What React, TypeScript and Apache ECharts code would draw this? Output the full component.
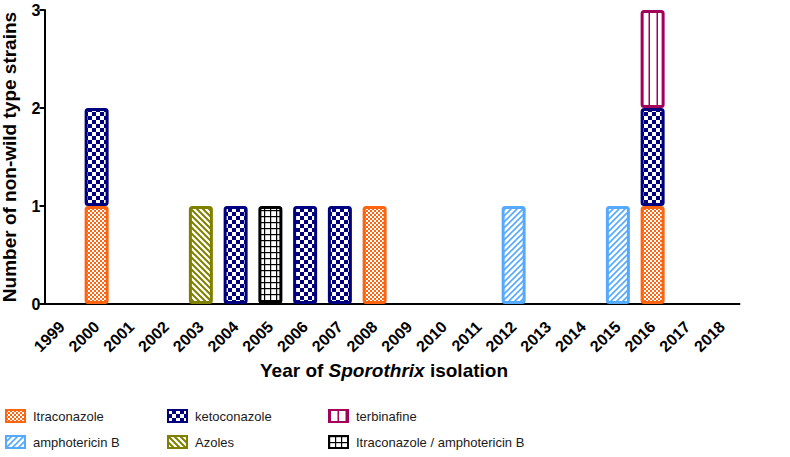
import React, { useEffect, useRef } from "react";
import * as echarts from "echarts";

const years = ["1999","2000","2001","2002","2003","2004","2005","2006","2007","2008","2009","2010","2011","2012","2013","2014","2015","2016","2017","2018"];
const N = null;
const itraconazole = [N,1,N,N,N,N,N,N,N,1,N,N,N,N,N,N,N,1,N,N];
const ketoconazole = [N,1,N,N,N,1,N,1,1,N,N,N,N,N,N,N,N,1,N,N];
const terbinafine = [N,N,N,N,N,N,N,N,N,N,N,N,N,N,N,N,N,1,N,N];
const amphotericinB = [N,N,N,N,N,N,N,N,N,N,N,N,N,1,N,N,1,N,N,N];
const azoles = [N,N,N,N,1,N,N,N,N,N,N,N,N,N,N,N,N,N,N,N];
const itraAmpho = [N,N,N,N,N,N,1,N,N,N,N,N,N,N,N,N,N,N,N,N];

const ORANGE = "#FF6410";
const NAVY = "#00007E";
const CRIMSON = "#A3005A";
const LIGHTBLUE = "#55AAFF";
const OLIVE = "#808000";
const BLACK = "#000000";

function mk(w: number, h: number, draw: (c: CanvasRenderingContext2D) => void) {
  const cv = document.createElement("canvas");
  cv.width = w;
  cv.height = h;
  const c = cv.getContext("2d")!;
  c.fillStyle = "#ffffff";
  c.fillRect(0, 0, w, h);
  draw(c);
  return { image: cv, repeat: "repeat" } as any;
}

function patterns() {
  const itra = mk(4, 4, (c) => {
    c.fillStyle = ORANGE;
    c.fillRect(0, 0, 2, 2);
    c.fillRect(2, 2, 2, 2);
  });
  const keto = mk(8, 8, (c) => {
    c.fillStyle = NAVY;
    c.fillRect(0, 0, 8, 8);
    c.fillStyle = "#ffffff";
    c.fillRect(0, 0, 4, 4);
    c.fillRect(4, 4, 4, 4);
  });
  const terb = mk(8, 8, (c) => {
    c.fillStyle = CRIMSON;
    c.fillRect(0.5, 0, 1.5, 8);
  });
  const diag = (color: string, lw: number, forward: boolean) =>
    mk(6, 6, (c) => {
      c.strokeStyle = color;
      c.lineWidth = lw;
      c.beginPath();
      for (let k = -1; k <= 1; k++) {
        const o = k * 6;
        if (forward) {
          c.moveTo(o - 1, 7);
          c.lineTo(o + 7, -1);
        } else {
          c.moveTo(o - 1, -1);
          c.lineTo(o + 7, 7);
        }
      }
      c.stroke();
    });
  const grid = mk(6, 6, (c) => {
    c.fillStyle = BLACK;
    c.fillRect(0, 0, 6, 1.2);
    c.fillRect(0, 0, 1.2, 6);
  });
  return {
    itra,
    keto,
    terb,
    ampho: diag(LIGHTBLUE, 1.6, true),
    azol: diag(OLIVE, 2, false),
    grid,
  };
}

const FONT = "'Liberation Sans', Arial, sans-serif";

export default function App() {
  const ref = useRef<HTMLDivElement>(null);
  useEffect(() => {
    document.body.style.margin = "0";
    const chart = echarts.init(ref.current!, null, { renderer: "svg" });
    const p = patterns();
    const bar = (name: string, data: (number | null)[], fill: any, border: string, z = 2) => ({
      name,
      type: "bar",
      stack: "total",
      data,
      barWidth: 24,
      z,
      itemStyle: { color: fill, borderColor: border, borderWidth: 3, borderRadius: 2 },
      emphasis: { disabled: true },
    });
    const legendBase = {
      orient: "vertical",
      top: 409,
      height: 45,
      padding: 0,
      itemWidth: 19,
      itemHeight: 12,
      itemGap: 12,
      icon: "rect",
      textStyle: { fontFamily: FONT, fontSize: 13, lineHeight: 13, color: "#1a1a1a", padding: [0, 0, 0, 3] },
      selectedMode: false,
    };
    chart.setOption({
      animation: false,
      textStyle: { fontFamily: FONT },
      grid: { left: 44.5, top: 10, width: 695, height: 294, containLabel: false, outerBoundsMode: "none" },
      xAxis: {
        type: "category",
        data: years,
        axisLine: { lineStyle: { color: "#000", width: 2 } },
        axisTick: { alignWithLabel: true, length: 6, lineStyle: { color: "#000", width: 2 } },
        axisLabel: { rotate: 45, interval: 0, fontWeight: "bold", fontSize: 16, color: "#000", margin: 20, fontFamily: FONT },
        name: "{a|Year of }{b|Sporothrix}{a| isolation}",
        nameLocation: "middle",
        nameMoveOverlap: false,
        nameGap: 57,
        nameTextStyle: {
          padding: [0, 16, 0, 0],
          rich: {
            a: { fontWeight: "bold", fontSize: 19, color: "#000", fontFamily: FONT },
            b: { fontWeight: "bold", fontStyle: "italic", fontSize: 19, color: "#000", fontFamily: FONT },
          },
        },
      },
      yAxis: {
        type: "value",
        min: 0,
        max: 3,
        interval: 1,
        splitLine: { show: false },
        axisLine: { show: true, lineStyle: { color: "#000", width: 2 } },
        axisTick: { show: true, length: 5, lineStyle: { color: "#000", width: 2 } },
        axisLabel: { fontWeight: "bold", fontSize: 16, color: "#000", margin: 4, fontFamily: FONT },
        name: "Number of non-wild type strains",
        nameLocation: "middle",
        nameMoveOverlap: false,
        nameGap: 26,
        nameTextStyle: { fontWeight: "bold", fontSize: 19, color: "#000", fontFamily: FONT },
      },
      legend: [
        { ...legendBase, left: 5, data: ["Itraconazole", "amphotericin B"] },
        { ...legendBase, left: 167, data: ["ketoconazole", "Azoles"] },
        { ...legendBase, left: 328, data: ["terbinafine", "Itraconazole / amphotericin B"] },
      ],
      series: [
        bar("Itraconazole", itraconazole, p.itra, ORANGE, 3),
        bar("ketoconazole", ketoconazole, p.keto, NAVY),
        bar("terbinafine", terbinafine, p.terb, CRIMSON),
        bar("amphotericin B", amphotericinB, p.ampho, LIGHTBLUE),
        bar("Azoles", azoles, p.azol, OLIVE),
        bar("Itraconazole / amphotericin B", itraAmpho, p.grid, BLACK),
      ],
    });
    return () => chart.dispose();
  }, []);
  return <div ref={ref} style={{ width: 790, height: 457 }} />;
}
